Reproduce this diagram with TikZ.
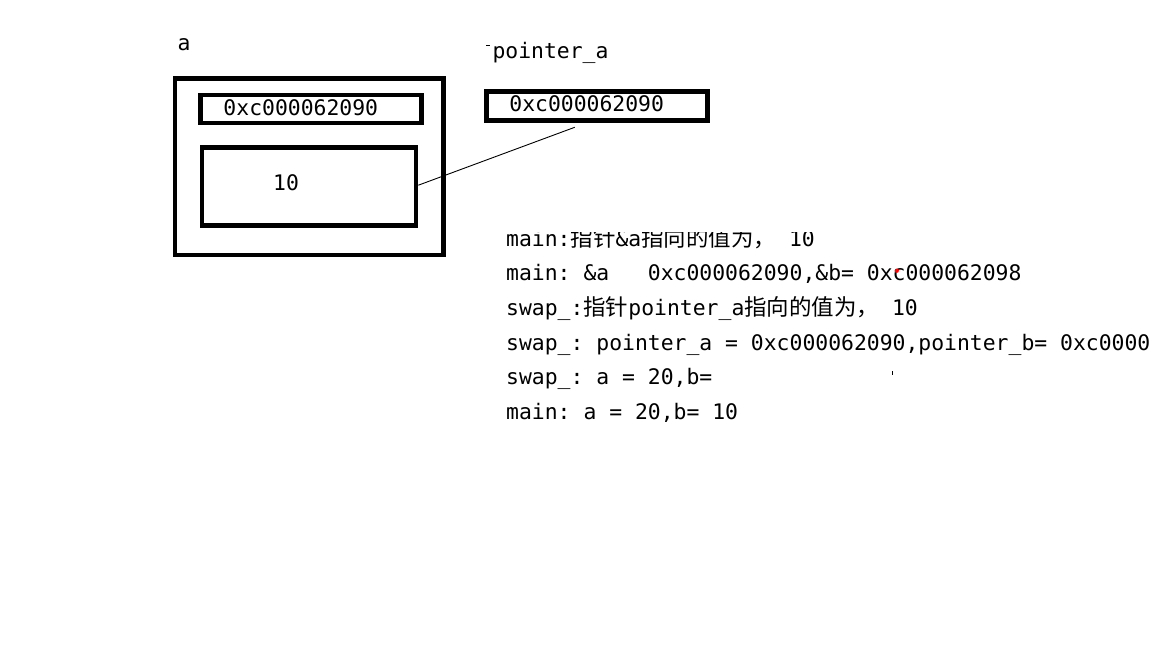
\documentclass[tikz,border=0pt]{standalone}
\usepackage{fontspec}
\setmainfont{DejaVu Sans Mono}
\newfontfamily\cjk[Scale=1.05]{Noto Sans CJK SC}
\frenchspacing

\begin{document}
\begin{tikzpicture}[x=1pt,y=-1pt]
    \tikzstyle{every node} = [font=\fontsize{21.4}{25}\selectfont, inner sep=0pt]
    \tikzstyle{box} = [draw, rectangle, line width=4.7pt]
    \tikzstyle{outline} = [anchor=base west]
    \useasboundingbox (0,0) rectangle (1152,648);
    % variable a
    \node[anchor=base] (nameA) at (184,50) {a};
    \node[box, minimum width=268.5pt, minimum height=176.7pt] (varA) at (309.2,166.7) {};
    \node[box, minimum width=220.6pt, minimum height=28pt] (addrBox) at (311,109) {};
    \node[anchor=base] (addrA) at (300.8,115) {0xc000062090};
    \node[box, minimum width=214pt, minimum height=78pt] (valBox) at (309,186.7) {};
    \node[anchor=base] (valA) at (286,190.7) {10};

    % pointer_a
    \node[anchor=base] (namePtr) at (550.5,58.5) {pointer\_a};
    \draw[line width=1pt] (486,45.7) -- (490,45.7);
    \node[box, minimum width=221.4pt, minimum height=28.6pt] (ptrBox) at (597,106) {};
    \node[anchor=base] (ptrVal) at (586.7,111.7) {0xc000062090};
    \coordinate (ptrEnd) at (574.7,127.3);

    % Connections
    \draw[line width=0.9pt] ([yshift=1.5pt]valBox.east) -- (ptrEnd);

    % program output
    \begin{scope}
      \clip (480,232) rectangle (1152,648);
      \node[outline] (out1) at (506,246) {main:{\cjk 指针}\&a{\cjk 指向的值为，} 10};
    \end{scope}
    \node[outline] (out2) at (506,280.7) {main: \&a\ \ \ 0xc000062090,\&b= 0xc000062098};
    \node[outline] (out3) at (506,315.3) {swap\_:{\cjk 指针}pointer\_a{\cjk 指向的值为，} 10};
    \node[outline] (out4) at (506,350) {swap\_: pointer\_a = 0xc000062090,pointer\_b= 0xc0000};
    \node[outline] (out5) at (506,384.6) {swap\_: a = 20,b=};
    \node[outline] (out6) at (506,419.2) {main: a = 20,b= 10};

    % stray marks
    \fill[red] (896.7,270.7) circle (2.2);
    \draw[line width=1pt] (892.5,371) -- (892.5,374.5);
\end{tikzpicture}
\end{document}
